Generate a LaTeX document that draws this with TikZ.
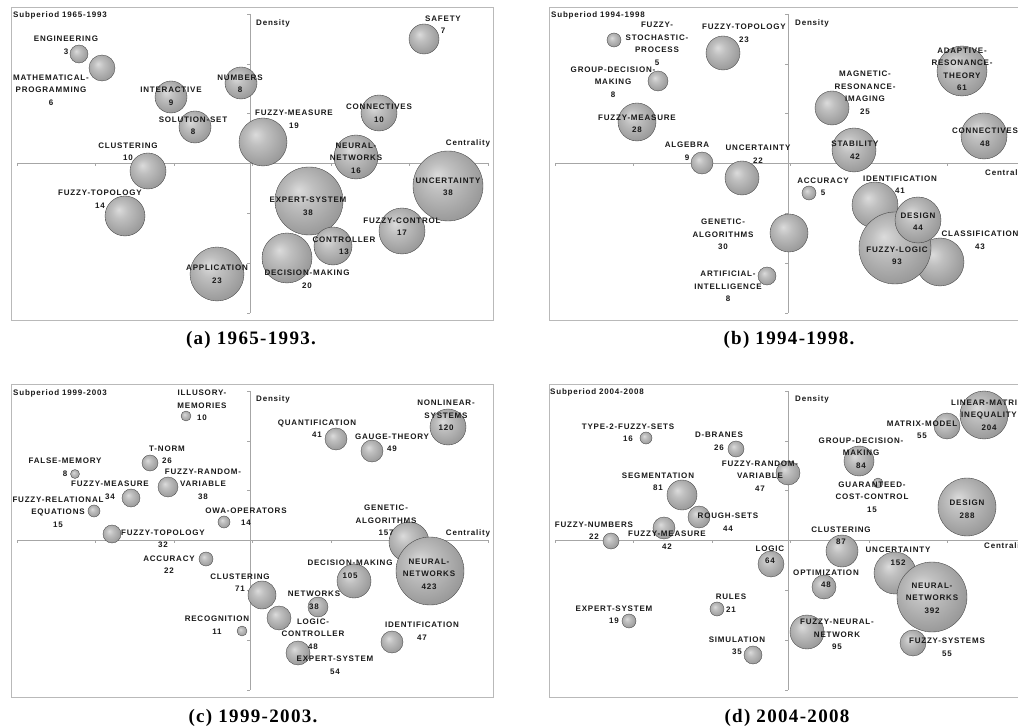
\documentclass[tikz,border=0pt]{standalone}
\usepackage{fontspec}
\setmainfont{Liberation Serif}
\newfontfamily\lblfont[LetterSpace=10]{Liberation Sans}
\newfontfamily\capfont[LetterSpace=7]{Liberation Serif}
\pgfdeclareradialshading{bubble}{\pgfpoint{-8bp}{8bp}}{color(0bp)=(gray!28); color(10bp)=(gray!50); color(20bp)=(gray!66); color(30bp)=(gray!82); color(50bp)=(gray!88)}
\begin{document}
\begin{tikzpicture}[x=1pt, y=-1pt,
  bub/.style={circle, inner sep=0pt, shading=bubble, draw=gray!50!black, line width=.35pt},
  lab/.style={font=\lblfont\bfseries\fontsize{8}{12.5}\selectfont, text=black!90, align=center, inner sep=0pt},
  panelbox/.style={draw=gray!55, line width=.8pt},
  axisline/.style={draw=gray!70, line width=.5pt},
  capt/.style={font=\capfont\bfseries\fontsize{19}{21}\selectfont, inner sep=0pt}]
\useasboundingbox (0,0) rectangle (1018,727);
\clip (0,0) rectangle (1018,727);
% frames and axes of the four panels
\foreach \dx/\dy in {0/0,538/0,0/377,538/377}{
  \draw[panelbox] (11+\dx,7+\dy) rectangle (493+\dx,320+\dy);
  \draw[axisline] (250+\dx,14+\dy) -- (250+\dx,313+\dy);
  \draw[axisline] (17+\dx,163+\dy) -- (488+\dx,163+\dy);
  \foreach \i in {0,...,6}{
    \draw[axisline] (247+\dx,14+49.8*\i+\dy) -- ++(3,0);
    \draw[axisline] (17+78.5*\i+\dx,163+\dy) -- ++(0,3);
  }
}
% (a) 1965-1993
\node[lab, anchor=west] (a-sub) at (13,15) {Subperiod 1965-1993};
\node[lab, anchor=west] (a-den) at (256,23) {Density};
\node[lab] (a-cen) at (468,143) {Centrality};
\node[bub, minimum size=18] (a-eng) at (79,54) {};
\node[bub, minimum size=26] (a-math) at (102,68) {};
\node[bub, minimum size=32] (a-inter) at (171,97) {};
\node[bub, minimum size=32] (a-num) at (241,83) {};
\node[bub, minimum size=32] (a-sol) at (195,127) {};
\node[bub, minimum size=36] (a-clu) at (148,171) {};
\node[bub, minimum size=40] (a-topo) at (125,216) {};
\node[bub, minimum size=54] (a-app) at (217,274) {};
\node[bub, minimum size=48] (a-meas) at (263,142) {};
\node[bub, minimum size=30] (a-safe) at (424,39) {};
\node[bub, minimum size=36] (a-conn) at (379,113) {};
\node[bub, minimum size=44] (a-neur) at (356,157) {};
\node[bub, minimum size=70] (a-unc) at (448,186) {};
\node[bub, minimum size=68] (a-exp) at (309,201) {};
\node[bub, minimum size=46] (a-fctl) at (402,231) {};
\node[bub, minimum size=38] (a-ctl) at (333,246) {};
\node[bub, minimum size=50] (a-dec) at (287,258) {};
\node[lab] (a-eng-t) at (66,45.5) {ENGINEERING\\3};
\node[lab] (a-math-t) at (51,90) {MATHEMATICAL-\\PROGRAMMING\\6};
\node[lab] (a-inter-t) at (171,96) {INTERACTIVE\\9};
\node[lab] (a-num-t) at (240,83.5) {NUMBERS\\8};
\node[lab] (a-sol-t) at (193,125.5) {SOLUTION-SET\\8};
\node[lab] (a-clu-t) at (128,151.5) {CLUSTERING\\10};
\node[lab] (a-topo-t) at (100,199) {FUZZY-TOPOLOGY\\14};
\node[lab] (a-app-t) at (217,274.5) {APPLICATION\\23};
\node[lab] (a-meas-t) at (294,119) {FUZZY-MEASURE\\19};
\node[lab] (a-safe-t) at (443,24.5) {SAFETY\\7};
\node[lab] (a-conn-t) at (379,113) {CONNECTIVES\\10};
\node[lab] (a-neur-t) at (356,158) {NEURAL-\\NETWORKS\\16};
\node[lab] (a-unc-t) at (448,187) {UNCERTAINTY\\38};
\node[lab] (a-exp-t) at (308,206.5) {EXPERT-SYSTEM\\38};
\node[lab] (a-fctl-t) at (402,226.5) {FUZZY-CONTROL\\17};
\node[lab] (a-ctl-t) at (344,246) {CONTROLLER\\13};
\node[lab] (a-dec-t) at (307,279) {DECISION-MAKING\\20};
\node[capt] (a-cap) at (251,340) {(a) 1965-1993.};
% (b) 1994-1998
\node[lab, anchor=west] (b-sub) at (551,15) {Subperiod 1994-1998};
\node[lab, anchor=west] (b-den) at (795,23) {Density};
\node[lab, anchor=west] (b-cen) at (985,173) {Centrality};
\node[bub, minimum size=14] (b-stoch) at (614,40) {};
\node[bub, minimum size=34] (b-topo) at (723,53) {};
\node[bub, minimum size=20] (b-group) at (658,81) {};
\node[bub, minimum size=38] (b-meas) at (637,122) {};
\node[bub, minimum size=22] (b-alg) at (702,163) {};
\node[bub, minimum size=34] (b-unc) at (742,178) {};
\node[bub, minimum size=38] (b-gen) at (789,233) {};
\node[bub, minimum size=18] (b-art) at (767,276) {};
\node[bub, minimum size=34] (b-mri) at (832,108) {};
\node[bub, minimum size=44] (b-stab) at (854,150) {};
\node[bub, minimum size=50] (b-adapt) at (962,71) {};
\node[bub, minimum size=46] (b-conn) at (984,136) {};
\node[bub, minimum size=14] (b-acc) at (809,193) {};
\node[bub, minimum size=48] (b-class) at (940,262) {};
\node[bub, minimum size=46] (b-ident) at (875,205) {};
\node[bub, minimum size=72] (b-logic) at (895,248) {};
\node[bub, minimum size=46] (b-design) at (918,220) {};
\node[lab] (b-stoch-t) at (657,44) {FUZZY-\\STOCHASTIC-\\PROCESS\\5};
\node[lab] (b-topo-t) at (744,33.5) {FUZZY-TOPOLOGY\\23};
\node[lab] (b-group-t) at (613,82) {GROUP-DECISION-\\MAKING\\8};
\node[lab] (b-meas-t) at (637,123.5) {FUZZY-MEASURE\\28};
\node[lab] (b-alg-t) at (687,151) {ALGEBRA\\9};
\node[lab] (b-unc-t) at (758,154) {UNCERTAINTY\\22};
\node[lab] (b-gen-t) at (723,234.5) {GENETIC-\\ALGORITHMS\\30};
\node[lab] (b-art-t) at (728,286.5) {ARTIFICIAL-\\INTELLIGENCE\\8};
\node[lab] (b-mri-t) at (865,92.5) {MAGNETIC-\\RESONANCE-\\IMAGING\\25};
\node[lab] (b-stab-t) at (855,150) {STABILITY\\42};
\node[lab] (b-adapt-t) at (962,69.5) {ADAPTIVE-\\RESONANCE-\\THEORY\\61};
\node[lab] (b-conn-t) at (985,137) {CONNECTIVES\\48};
\node[lab] (b-acc-t) at (823,186.5) {ACCURACY\\5};
\node[lab] (b-ident-t) at (900,184.5) {IDENTIFICATION\\41};
\node[lab] (b-design-t) at (918,221.5) {DESIGN\\44};
\node[lab] (b-logic-t) at (897,256) {FUZZY-LOGIC\\93};
\node[lab] (b-class-t) at (980,240.5) {CLASSIFICATION\\43};
\node[capt] (b-cap) at (789,340) {(b) 1994-1998.};
% (c) 1999-2003
\node[lab, anchor=west] (c-sub) at (13,393) {Subperiod 1999-2003};
\node[lab, anchor=west] (c-den) at (256,399) {Density};
\node[lab] (c-cen) at (468,533) {Centrality};
\node[bub, minimum size=10] (c-illu) at (186,416) {};
\node[bub, minimum size=16] (c-tnorm) at (150,463) {};
\node[bub, minimum size=9] (c-false) at (75,474) {};
\node[bub, minimum size=20] (c-frv) at (168,487) {};
\node[bub, minimum size=18] (c-meas) at (131,498) {};
\node[bub, minimum size=12] (c-fre) at (94,511) {};
\node[bub, minimum size=12] (c-owa) at (224,522) {};
\node[bub, minimum size=18] (c-topo) at (112,534) {};
\node[bub, minimum size=14] (c-acc) at (206,559) {};
\node[bub, minimum size=28] (c-clu) at (262,595) {};
\node[bub, minimum size=10] (c-rec) at (242,631) {};
\node[bub, minimum size=22] (c-quant) at (336,439) {};
\node[bub, minimum size=22] (c-gauge) at (372,451) {};
\node[bub, minimum size=36] (c-nonlin) at (448,427) {};
\node[bub, minimum size=40] (c-gen) at (409,542) {};
\node[bub, minimum size=68] (c-neur) at (430,571) {};
\node[bub, minimum size=34] (c-dec) at (354,581) {};
\node[bub, minimum size=20] (c-net) at (318,607) {};
\node[bub, minimum size=24] (c-logic) at (279,618) {};
\node[bub, minimum size=24] (c-exp) at (298,653) {};
\node[bub, minimum size=22] (c-ident) at (392,642) {};
\node[lab] (c-illu-t) at (202,405.5) {ILLUSORY-\\MEMORIES\\10};
\node[lab] (c-tnorm-t) at (167,454.5) {T-NORM\\26};
\node[lab] (c-false-t) at (65,467) {FALSE-MEMORY\\8};
\node[lab] (c-frv-t) at (203,484) {FUZZY-RANDOM-\\VARIABLE\\38};
\node[lab] (c-meas-t) at (110,490.5) {FUZZY-MEASURE\\34};
\node[lab] (c-fre-t) at (58,512) {FUZZY-RELATIONAL\\EQUATIONS\\15};
\node[lab] (c-owa-t) at (246,516.5) {OWA-OPERATORS\\14};
\node[lab] (c-topo-t) at (163,538.5) {FUZZY-TOPOLOGY\\32};
\node[lab] (c-acc-t) at (169,564.5) {ACCURACY\\22};
\node[lab] (c-clu-t) at (240,582.5) {CLUSTERING\\71};
\node[lab] (c-rec-t) at (217,625) {RECOGNITION\\11};
\node[lab] (c-quant-t) at (317,428.5) {QUANTIFICATION\\41};
\node[lab] (c-gauge-t) at (392,442.5) {GAUGE-THEORY\\49};
\node[lab] (c-nonlin-t) at (446,415.5) {NONLINEAR-\\SYSTEMS\\120};
\node[lab] (c-gen-t) at (386,520.5) {GENETIC-\\ALGORITHMS\\157};
\node[lab] (c-neur-t) at (429,574) {NEURAL-\\NETWORKS\\423};
\node[lab] (c-dec-t) at (350,569) {DECISION-MAKING\\105};
\node[lab] (c-net-t) at (314,600) {NETWORKS\\38};
\node[lab] (c-logic-t) at (313,634) {LOGIC-\\CONTROLLER\\48};
\node[lab] (c-exp-t) at (335,665) {EXPERT-SYSTEM\\54};
\node[lab] (c-ident-t) at (422,631) {IDENTIFICATION\\47};
\node[capt] (c-cap) at (253,718) {(c) 1999-2003.};
% (d) 2004-2008
\node[lab, anchor=west] (d-sub) at (550,392) {Subperiod 2004-2008};
\node[lab, anchor=west] (d-den) at (795,399) {Density};
\node[lab, anchor=west] (d-cen) at (984,546) {Centrality};
\node[bub, minimum size=12] (d-type2) at (646,438) {};
\node[bub, minimum size=16] (d-dbr) at (736,449) {};
\node[bub, minimum size=24] (d-frv) at (788,473) {};
\node[bub, minimum size=30] (d-seg) at (682,495) {};
\node[bub, minimum size=22] (d-rough) at (699,517) {};
\node[bub, minimum size=22] (d-meas) at (664,528) {};
\node[bub, minimum size=16] (d-fnum) at (611,541) {};
\node[bub, minimum size=26] (d-logic) at (771,564) {};
\node[bub, minimum size=14] (d-rules) at (717,609) {};
\node[bub, minimum size=14] (d-exp) at (629,621) {};
\node[bub, minimum size=18] (d-sim) at (753,655) {};
\node[bub, minimum size=26] (d-mm) at (947,426) {};
\node[bub, minimum size=48] (d-lmi) at (984,415) {};
\node[bub, minimum size=30] (d-group) at (859,461) {};
\node[bub, minimum size=10] (d-gcc) at (878,483) {};
\node[bub, minimum size=58] (d-design) at (967,507) {};
\node[bub, minimum size=32] (d-clu) at (842,551) {};
\node[bub, minimum size=42] (d-unc) at (895,573) {};
\node[bub, minimum size=70] (d-neur) at (932,597) {};
\node[bub, minimum size=24] (d-opt) at (824,587) {};
\node[bub, minimum size=34] (d-fnn) at (807,632) {};
\node[bub, minimum size=26] (d-fsys) at (913,643) {};
\node[lab] (d-type2-t) at (628,432.5) {TYPE-2-FUZZY-SETS\\16};
\node[lab] (d-dbr-t) at (719,441) {D-BRANES\\26};
\node[lab] (d-frv-t) at (760,476) {FUZZY-RANDOM-\\VARIABLE\\47};
\node[lab] (d-seg-t) at (658,481.5) {SEGMENTATION\\81};
\node[lab] (d-rough-t) at (728,522) {ROUGH-SETS\\44};
\node[lab] (d-meas-t) at (667,540) {FUZZY-MEASURE\\42};
\node[lab] (d-fnum-t) at (594,530.5) {FUZZY-NUMBERS\\22};
\node[lab] (d-logic-t) at (770,554.5) {LOGIC\\64};
\node[lab] (d-rules-t) at (731,603) {RULES\\21};
\node[lab] (d-exp-t) at (614,614.5) {EXPERT-SYSTEM\\19};
\node[lab] (d-sim-t) at (737,646) {SIMULATION\\35};
\node[lab] (d-lmi-t) at (989,415) {LINEAR-MATRIX-\\INEQUALITY\\204};
\node[lab] (d-mm-t) at (922,429.5) {MATRIX-MODEL\\55};
\node[lab] (d-group-t) at (861,453) {GROUP-DECISION-\\MAKING\\84};
\node[lab] (d-gcc-t) at (872,497) {GUARANTEED-\\COST-CONTROL\\15};
\node[lab] (d-design-t) at (967,509) {DESIGN\\288};
\node[lab] (d-clu-t) at (841,535.5) {CLUSTERING\\87};
\node[lab] (d-unc-t) at (898,556) {UNCERTAINTY\\152};
\node[lab] (d-neur-t) at (932,598) {NEURAL-\\NETWORKS\\392};
\node[lab] (d-opt-t) at (826,578.5) {OPTIMIZATION\\48};
\node[lab] (d-fnn-t) at (837,634.5) {FUZZY-NEURAL-\\NETWORK\\95};
\node[lab] (d-fsys-t) at (947,647) {FUZZY-SYSTEMS\\55};
\node[capt] (d-cap) at (787,718) {(d) 2004-2008};
\end{tikzpicture}
\end{document}
